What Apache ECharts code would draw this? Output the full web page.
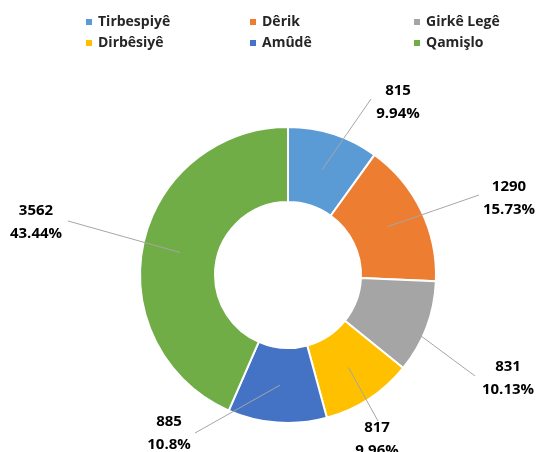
<!DOCTYPE html>
<html>
<head>
<meta charset="utf-8">
<script src="https://cdn.jsdelivr.net/npm/echarts@6/dist/echarts.min.js"></script>
<style>html,body{margin:0;padding:0;background:#fff;}#c{width:536px;height:452px;}</style>
</head>
<body>
<div id="c"></div>
<script>
var categories = ["Tirbespiyê", "Dêrik", "Girkê Legê", "Dirbêsiyê", "Amûdê", "Qamişlo"];
var values = [815, 1290, 831, 817, 885, 3562];
var percentLabels = ["9.94%", "15.73%", "10.13%", "9.96%", "10.8%", "43.44%"];
var colors = ["#5B9BD5", "#ED7D31", "#A5A5A5", "#FFC000", "#4472C4", "#70AD47"];

// layout: legend grid positions, label centres and leader-line ends
var legendCols = [79, 243, 407];
var legendRows = [10, 31];
var labelPos = [[398, 102], [509, 198], [508, 378], [377, 439], [169, 433], [36, 222]];
var lineEnds = [[371, 99], [479, 195], [475, 376], [378, 421], [195, 433], [68, 221]];

var CX = 288, CY = 275, R_IN = 73, R_OUT = 148, R_MID = (R_IN + R_OUT) / 2;
var total = values.reduce(function (a, b) { return a + b; }, 0);
var cum = [];
(function () { var s = 0; for (var i = 0; i < values.length; i++) { cum.push(s); s += values[i]; } })();

var font = "'Open Sans', sans-serif";
var chart = echarts.init(document.getElementById('c'), null, { renderer: 'canvas' });

var legends = categories.map(function (n, i) {
  return {
    data: [n], top: legendRows[Math.floor(i / 3)], left: legendCols[i % 3],
    icon: 'rect', itemWidth: 8, itemHeight: 8,
    selectedMode: false,
    textStyle: { fontFamily: font, fontWeight: 'bold', fontSize: 14, color: '#262626' }
  };
});

var pieData = categories.map(function (n, i) { return { name: n, value: values[i] }; });

chart.setOption({
  animation: false,
  color: colors,
  legend: legends,
  series: [{
    type: 'pie',
    z: 2,
    center: [CX, CY],
    radius: [R_IN, R_OUT],
    startAngle: 90,
    clockwise: true,
    itemStyle: { borderColor: '#fff', borderWidth: 2 },
    label: { show: false },
    labelLine: { show: false },
    emphasis: { disabled: true },
    data: pieData
  }, {
    type: 'pie',
    z: 3,
    center: [CX, CY],
    radius: [R_IN, R_OUT],
    startAngle: 90,
    clockwise: true,
    silent: true,
    avoidLabelOverlap: false,
    itemStyle: { color: 'rgba(0,0,0,0)', borderWidth: 0 },
    label: {
      show: true, position: 'outside',
      fontFamily: font, fontWeight: 'bold', fontSize: 15, color: '#000', lineHeight: 23,
      formatter: function (p) { return p.value + '\n' + percentLabels[p.dataIndex]; }
    },
    labelLine: { show: true, lineStyle: { color: '#a6a6a6', width: 1 } },
    labelLayout: function (p) {
      var i = p.dataIndex;
      var frac = (cum[i] + values[i] / 2) / total;
      var th = (90 - 360 * frac) * Math.PI / 180;
      var sx = CX + R_MID * Math.cos(th), sy = CY - R_MID * Math.sin(th);
      var e = lineEnds[i];
      return {
        x: labelPos[i][0], y: labelPos[i][1], align: 'center', verticalAlign: 'middle',
        labelLinePoints: [[sx, sy], [(sx + e[0]) / 2, (sy + e[1]) / 2], [e[0], e[1]]]
      };
    },
    emphasis: { disabled: true },
    data: pieData
  }]
});
</script>
</body>
</html>
